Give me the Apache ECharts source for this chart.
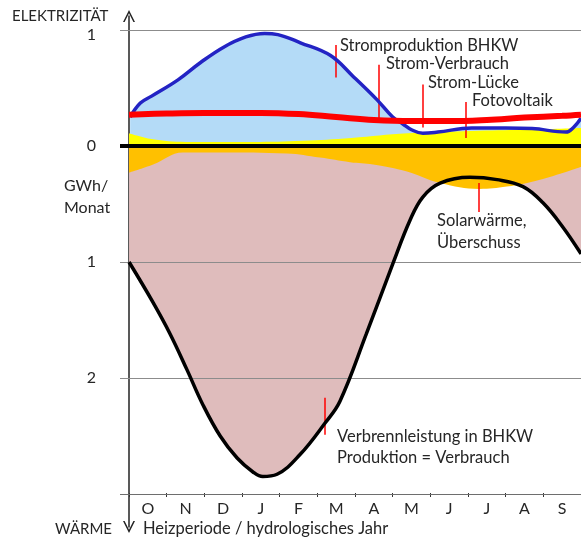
<!DOCTYPE html>
<html><head><meta charset="utf-8">
<script src="https://cdn.jsdelivr.net/npm/echarts@6/dist/echarts.min.js"></script>
<style>html,body{margin:0;padding:0;background:#fff}#c{width:581px;height:540px}</style>
</head><body><div id="c"></div>
<script>
// ---- data (x = months since 1 Oct, y = GWh/Monat) ----
const months = ['O','N','D','J','F','M','A','M','J','J','A','S'];
const elecTickValues = [1, 0];
const heatTickValues = [1, 2];
const stromProduktionBHKW = [[0.03,0.25],[0.3,0.37],[0.6,0.43],[1.3,0.57],[1.9,0.72],[2.5,0.85],[3.1,0.94],[3.6,0.97],[3.95,0.96],[4.55,0.89],[5.35,0.78],[5.95,0.6],[6.58,0.4],[7.0,0.25],[7.27,0.19],[7.5,0.14],[7.8,0.11],[8.2,0.12],[9.1,0.155],[10.0,0.155],[10.7,0.15],[11.6,0.12],[11.8,0.16],[12,0.24]];
const stromVerbrauch = [[0,0.27],[1,0.28],[2,0.285],[3.5,0.285],[4.5,0.275],[5.5,0.25],[6.5,0.225],[7.5,0.215],[8.5,0.215],[9.5,0.225],[10.5,0.245],[11.5,0.26],[12,0.27]];
const fotovoltaik = [[0,0.11],[0.6,0.06],[1.5,0.035],[3.3,0.035],[4.6,0.045],[5.9,0.07],[7.4,0.11],[9.1,0.13],[10.5,0.14],[12,0.155]];
const verbrennleistung = [[0,1.0],[0.64,1.35],[1.09,1.62],[1.54,1.93],[1.96,2.23],[2.42,2.5],[2.87,2.69],[3.29,2.81],[3.55,2.85],[3.93,2.83],[4.54,2.66],[5.2,2.39],[5.6,2.2],[6.3,1.62],[7.01,1.01],[7.46,0.64],[7.8,0.44],[8.26,0.32],[9.05,0.27],[9.77,0.29],[10.46,0.35],[10.99,0.49],[11.52,0.70],[12,0.93]];
const solarwaerme = [[0,0.23],[0.64,0.16],[1.43,0.055],[2.42,0.055],[4.19,0.065],[5.07,0.10],[5.87,0.14],[6.48,0.16],[7.38,0.22],[8.26,0.32],[9.3,0.37],[10.03,0.35],[10.91,0.29],[12,0.18]];

// heat is drawn downward
const down = arr => arr.map(p => [p[0], -p[1]]);

const FONT = 'Lato, "Open Sans", sans-serif';
const TXT = '#262626';
const RED = '#ff0000';
const ARROW = 'path://M0,12 L6,0 L12,12 L10.4,12 L6,3.2 L1.6,12 Z';

const chart = echarts.init(document.getElementById('c'), null, {renderer:'canvas'});

function txt(x, y, s, size) {
  return {type:'text', x:x, y:y, z:100, style:{text:s, fill:TXT, font: size+'px '+FONT, align:'left', verticalAlign:'middle'}};
}
function redLine(x, y1, y2) {
  return [{coord:[x,y1]},{coord:[x,y2]}];
}
function hLine(y, color, width) {
  return [{coord:[-0.24,y], lineStyle:{color:color, width:width, type:'solid'}},{coord:[12,y]}];
}

const option = {
  animation:false,
  backgroundColor:'#fff',
  grid:[
    {left:120, right:0, top:12.6, bottom:46},
    {left:129, right:0, top:16, bottom:13},
    {left:129, right:0, top:470, bottom:47}
  ],
  xAxis:[
    {type:'value', gridIndex:0, min:-0.24, max:12, show:false},
    {type:'value', gridIndex:1, min:0, max:1, show:false},
    {type:'category', gridIndex:2, data:months, boundaryGap:true, position:'bottom',
     axisLine:{show:false},
     axisTick:{show:true, length:4, lineStyle:{color:'#333', width:1}},
     axisLabel:{color:TXT, fontFamily:FONT, fontSize:16, margin:8},
     splitLine:{show:false}}
  ],
  yAxis:[
    {type:'value', gridIndex:0, min:-3, max:1.15, interval:1,
     axisLine:{show:false}, axisTick:{show:false}, splitLine:{show:false},
     axisLabel:{color:TXT, fontFamily:FONT, fontSize:16, margin:24,
       rich:{e:{fontFamily:FONT, fontSize:16, color:TXT, padding:[10,0,0,0]}},
       formatter: v => {
         if (v > 0 && elecTickValues.includes(v)) return '{e|' + v + '}';
         if (v === 0 && elecTickValues.includes(0)) return '0';
         if (v < 0 && heatTickValues.includes(-v)) return String(-v);
         return '';
       }}},
    {type:'value', gridIndex:1, min:0, max:1,
     axisLine:{show:true, onZero:false, lineStyle:{color:'#222', width:1.5},
       symbol:[ARROW, ARROW], symbolSize:[14,12]},
     axisTick:{show:false}, axisLabel:{show:false}, splitLine:{show:false}},
    {type:'value', gridIndex:2, min:0, max:1, show:false}
  ],
  series:[
    {name:'Stromproduktion BHKW (Fläche)', type:'line', xAxisIndex:0, yAxisIndex:0, data:stromProduktionBHKW,
     smooth:0.4, symbol:'none', lineStyle:{width:0}, areaStyle:{color:'#b4dbf7', opacity:1}, z:2},
    {name:'Fotovoltaik', type:'line', data:fotovoltaik, smooth:0.4, symbol:'none',
     lineStyle:{width:0}, areaStyle:{color:'#ffff00', opacity:1}, z:3},
    {name:'Verbrennleistung (Fläche)', type:'line', data:down(verbrennleistung), smooth:0.4, symbol:'none',
     lineStyle:{width:0}, areaStyle:{color:'#dfbcbc', opacity:1}, z:2},
    {name:'Solarwärme', type:'line', data:down(solarwaerme), smooth:0.4, symbol:'none',
     lineStyle:{width:0}, areaStyle:{color:'#ffc000', opacity:1}, z:3},
    {name:'Verbrennleistung', type:'line', data:down(verbrennleistung), smooth:0.4, symbol:'none',
     lineStyle:{width:3.5, color:'#000'}, z:6,
     markLine:{silent:true, symbol:'none', animation:false, label:{show:false},
       lineStyle:{type:'solid'},
       data:[
         hLine(1, '#8c8c8c', 1),
         hLine(-1, '#8c8c8c', 1),
         hLine(-2, '#8c8c8c', 1),
         hLine(-3, '#6e6e6e', 1.2),
         hLine(0, '#000', 4)
       ]}},
    {name:'Strom-Verbrauch', type:'line', data:stromVerbrauch, smooth:0.4, symbol:'none',
     lineStyle:{width:6, color:RED}, z:7},
    {name:'Stromproduktion BHKW', type:'line', data:stromProduktionBHKW, smooth:0.4, symbol:'none',
     lineStyle:{width:3.5, color:'#2323c4'}, z:6,
     markLine:{silent:true, symbol:'none', animation:false, label:{show:false},
       lineStyle:{color:RED, width:1.5, type:'solid'},
       data:[
         redLine(5.50, 0.87, 0.59),
         redLine(6.64, 0.70, 0.24),
         redLine(7.80, 0.53, 0.16),
         redLine(8.95, 0.38, 0.07),
         redLine(9.29, -0.32, -0.57),
         redLine(5.20, -2.17, -2.49)
       ]}}
  ],
  graphic:[
    txt(12, 16, 'ELEKTRIZITÄT', 15),
    txt(64, 186, 'GWh/', 16),
    txt(64, 208, 'Monat', 16),
    txt(55, 529, 'WÄRME', 15),
    txt(143, 529, 'Heizperiode / hydrologisches Jahr', 16.5),
    txt(340, 46, 'Stromproduktion BHKW', 16.5),
    txt(386, 64, 'Strom-Verbrauch', 16.5),
    txt(428, 83, 'Strom-Lücke', 16.5),
    txt(472, 101, 'Fotovoltaik', 16.5),
    txt(437, 221, 'Solarwärme,', 16.5),
    txt(437, 243, 'Überschuss', 16.5),
    txt(337, 437, 'Verbrennleistung in BHKW', 16.5),
    txt(337, 458, 'Produktion = Verbrauch', 16.5)
  ]
};
chart.setOption(option);
</script>
</body></html>
